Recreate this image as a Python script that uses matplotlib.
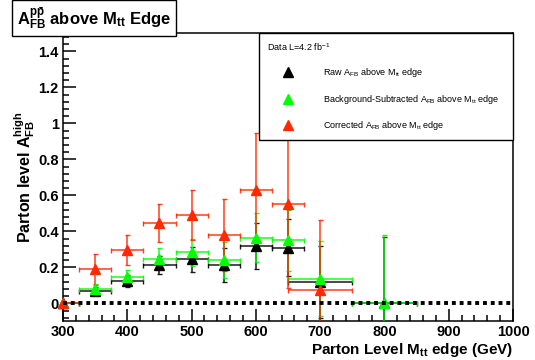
import numpy as np
import matplotlib
matplotlib.use('Agg')
import matplotlib.pyplot as plt
from matplotlib.lines import Line2D
from matplotlib.ticker import MultipleLocator

plt.rcParams['font.family'] = ['Liberation Sans', 'DejaVu Sans']
plt.rcParams['mathtext.default'] = 'regular'

# values
mtt_edge = [300, 350, 400, 450, 500, 550, 600, 650, 700, 800]
bin_half = [25, 25, 25, 25, 25, 25, 25, 25, 50, 50]

raw_afb = [0.0, 0.07, 0.124, 0.211, 0.244, 0.211, 0.317, 0.309, 0.117, 0.0]
raw_err = [0.0, 0.02, 0.035, 0.05, 0.07, 0.095, 0.127, 0.16, 0.2, 0.37]

bkg_afb = [0.0, 0.079, 0.146, 0.248, 0.283, 0.24, 0.365, 0.35, 0.137, 0.003]
bkg_err = [0.0, 0.028, 0.04, 0.06, 0.077, 0.1, 0.135, 0.17, 0.21, 0.375]

cor_edge = [300, 350, 400, 450, 500, 550, 600, 650, 700]
cor_half = [25, 25, 25, 25, 25, 25, 25, 25, 50]
cor_afb = [0.0, 0.189, 0.296, 0.446, 0.489, 0.381, 0.629, 0.553, 0.074]
cor_err = [0.0, 0.085, 0.085, 0.105, 0.14, 0.2, 0.315, 0.47, 0.39]

RED = '#ff2a00'
GREEN = '#00ff00'

fig = plt.figure(figsize=(5.35, 3.6), dpi=100)
ax = fig.add_axes([63/535, 1-321.3/360, 450/535, 288/360])

series = [
    (mtt_edge, bin_half, raw_afb, raw_err, 'black', 'Raw $A_{FB}$ above $M_{tt}$ edge'),
    (mtt_edge, bin_half, bkg_afb, bkg_err, GREEN, 'Background-Subtracted $A_{FB}$ above $M_{tt}$ edge'),
    (cor_edge, cor_half, cor_afb, cor_err, RED, 'Corrected $A_{FB}$ above $M_{tt}$ edge'),
]

handles = []
for x, xe, y, ye, col, lab in series:
    ax.errorbar(x, y, xerr=xe, yerr=ye, fmt='none', ecolor=col, elinewidth=1.1,
                capsize=1.8, capthick=1.0, alpha=0.9, zorder=3)
    ax.plot(x, y, '^', color=col, markersize=7.5, linestyle='none', clip_on=False, zorder=4)
    handles.append(Line2D([], [], marker='^', color=col, linestyle='none', markersize=7, label=lab))

ax.axhline(0, color='black', lw=2.8, linestyle=(0, (1, 1)), zorder=5)

ax.set_xlim(300, 1000)
ax.set_ylim(-0.1, 1.5)
ax.xaxis.set_major_locator(MultipleLocator(100))
ax.xaxis.set_minor_locator(MultipleLocator(20))
ax.yaxis.set_major_locator(MultipleLocator(0.2))
ax.yaxis.set_minor_locator(MultipleLocator(0.04))
ax.set_yticks([0, 0.2, 0.4, 0.6, 0.8, 1.0, 1.2, 1.4])
ax.set_yticklabels(['0', '0.2', '0.4', '0.6', '0.8', '1', '1.2', '1.4'])
ax.tick_params(which='both', direction='in', top=False, right=False, width=1.1)
ax.tick_params(which='major', length=9, labelsize=10.5, pad=3)
ax.tick_params(which='minor', length=4.5)
for lab in ax.get_xticklabels() + ax.get_yticklabels():
    lab.set_fontweight('bold')
for sp in ax.spines.values():
    sp.set_linewidth(1.1)

ax.set_xlabel('Parton Level $M_{tt}$ edge (GeV)', fontsize=11, fontweight='bold', loc='right', labelpad=1)
ax.set_ylabel('Parton level $A_{FB}^{high}$', fontsize=11.5, fontweight='bold', labelpad=4)
ax.yaxis.set_label_coords(-0.058, 0.5)

leg = ax.legend(handles=handles, loc='upper left', bbox_to_anchor=(0.436, 0.626, 0.564, 0.374),
                mode='expand', fontsize=6.5, title='Data L=4.2 fb$^{-1}$', title_fontsize=6.5,
                frameon=True, fancybox=False, edgecolor='black', framealpha=1,
                borderpad=0.85, labelspacing=1.5, handletextpad=1.6, handlelength=4.6,
                borderaxespad=0)
leg._legend_box.align = 'left'
leg.get_frame().set_linewidth(1.0)
leg.set_zorder(10)

fig.text(17/535, 1-18/360, '$A_{FB}^{p\\bar{p}}$ above $M_{tt}$ Edge', fontsize=12, fontweight='bold',
         va='center', ha='left',
         bbox=dict(boxstyle='square,pad=0.3', facecolor='white', edgecolor='black', linewidth=1.0))

fig.savefig('out.png', dpi=100)
